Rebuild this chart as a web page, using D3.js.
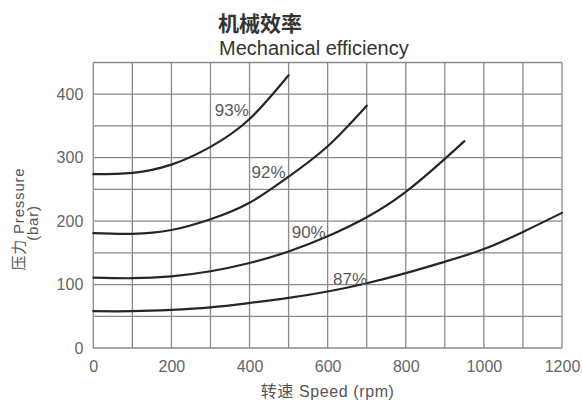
<!DOCTYPE html>
<html>
<head>
<meta charset="utf-8">
<script src="https://cdn.jsdelivr.net/npm/d3@7"></script>
<style>
  html, body { margin: 0; padding: 0; background: #fff; }
  svg { display: block; }
  text { font-family: "Liberation Sans", Arial, "Noto Sans CJK SC", sans-serif; }
</style>
</head>
<body>
<svg id="chart" width="582" height="401"></svg>
<script>
// ---- data ----
const titleZh = "机械效率";
const titleEn = "Mechanical efficiency";
const xLabel = "转速 Speed (rpm)";
const yLabel1 = "压力 Pressure";
const yLabel2 = "(bar)";

const xTicks = [0, 200, 400, 600, 800, 1000, 1200];
const yTicks = [0, 100, 200, 300, 400];

const seriesNames = ["93%", "92%", "90%", "87%"];

const speed93 = [0, 100, 200, 300, 400, 500];
const press93 = [274, 276, 289, 317, 361, 430];

const speed92 = [0, 100, 200, 300, 400, 500, 600, 700];
const press92 = [181, 180, 186, 203, 229, 270, 318, 382];

const speed90 = [0, 100, 200, 300, 400, 500, 600, 700, 800, 900, 950];
const press90 = [111, 110, 113, 121, 134, 152, 176, 206, 246, 298, 326];

const speed87 = [0, 100, 200, 300, 400, 500, 600, 700, 800, 900, 1000, 1100, 1200];
const press87 = [58, 58, 60, 64, 71, 79, 89, 102, 118, 136, 156, 183, 213];

// label anchor points in data units (rpm, bar)
const labelSpeed = [311, 405, 508, 614];
const labelPress = [366, 268, 173, 99];

// ---- drawing ----
const svg = d3.select("#chart");
const x = d3.scaleLinear().domain([0, 1200]).range([93.3, 562]);
const y = d3.scaleLinear().domain([0, 450]).range([348, 62.5]);

const gridColor = "#8a8a8a";

// grid
const grid = svg.append("g");
grid.selectAll("line.v").data(d3.range(0, 1201, 100)).join("line")
  .attr("x1", d => x(d)).attr("x2", d => x(d))
  .attr("y1", y(0)).attr("y2", y(450))
  .attr("stroke", gridColor).attr("stroke-width", 1.3);
grid.selectAll("line.h").data(d3.range(0, 451, 50)).join("line")
  .attr("x1", x(0)).attr("x2", x(1200))
  .attr("y1", d => y(d)).attr("y2", d => y(d))
  .attr("stroke", gridColor).attr("stroke-width", 1.3);

// axes labels (using d3 axes, no domain/ticks lines)
const xAxis = svg.append("g").attr("transform", `translate(0,${y(0)})`)
  .call(d3.axisBottom(x).tickValues(xTicks).tickSize(0).tickPadding(13).tickFormat(d3.format("d")));
xAxis.select(".domain").remove();
xAxis.selectAll("text").attr("font-size", 16).attr("fill", "#666")
  .style("font-family", "'Liberation Sans', Arial, sans-serif");

const yAxis = svg.append("g").attr("transform", `translate(${x(0)},0)`)
  .call(d3.axisLeft(y).tickValues(yTicks).tickSize(0).tickPadding(10).tickFormat(d3.format("d")));
yAxis.select(".domain").remove();
yAxis.selectAll("text").attr("font-size", 16).attr("fill", "#666")
  .style("font-family", "'Liberation Sans', Arial, sans-serif");

// curves
const series = [
  [speed93, press93],
  [speed92, press92],
  [speed90, press90],
  [speed87, press87]
];
const line = d3.line().x(d => x(d[0])).y(d => y(d[1])).curve(d3.curveNatural);
svg.append("g").selectAll("path").data(series).join("path")
  .attr("d", s => line(s[0].map((v, i) => [v, s[1][i]])))
  .attr("fill", "none").attr("stroke", "#262626").attr("stroke-width", 2.2)
  .attr("stroke-linecap", "round");

// percent labels
svg.append("g").selectAll("text").data(seriesNames).join("text")
  .attr("x", (d, i) => x(labelSpeed[i]))
  .attr("y", (d, i) => y(labelPress[i]))
  .attr("font-size", 17).attr("fill", "#5a5a5a")
  .text(d => d);

// titles
svg.append("text").attr("x", 218).attr("y", 31)
  .attr("font-size", 21).attr("font-weight", "bold").attr("fill", "#333")
  .style("font-family", "'Noto Sans CJK SC', sans-serif")
  .text(titleZh);
svg.append("text").attr("x", 219).attr("y", 55)
  .attr("font-size", 20).attr("fill", "#333")
  .text(titleEn);

// x axis title
svg.append("text").attr("x", (x(0) + x(1200)) / 2).attr("y", 397)
  .attr("text-anchor", "middle").attr("font-size", 16).attr("fill", "#555")
  .attr("letter-spacing", 0.6)
  .text(xLabel);

// y axis title
const yt = svg.append("g").attr("transform", "translate(0,219) rotate(-90)");
yt.append("text").attr("x", 0).attr("y", 24).attr("text-anchor", "middle")
  .attr("font-size", 15).attr("fill", "#555").attr("letter-spacing", 0.8)
  .text(yLabel1);
yt.append("text").attr("x", -4).attr("y", 38).attr("text-anchor", "middle")
  .attr("font-size", 15).attr("fill", "#555").attr("letter-spacing", 0.8)
  .text(yLabel2);
</script>
</body>
</html>
